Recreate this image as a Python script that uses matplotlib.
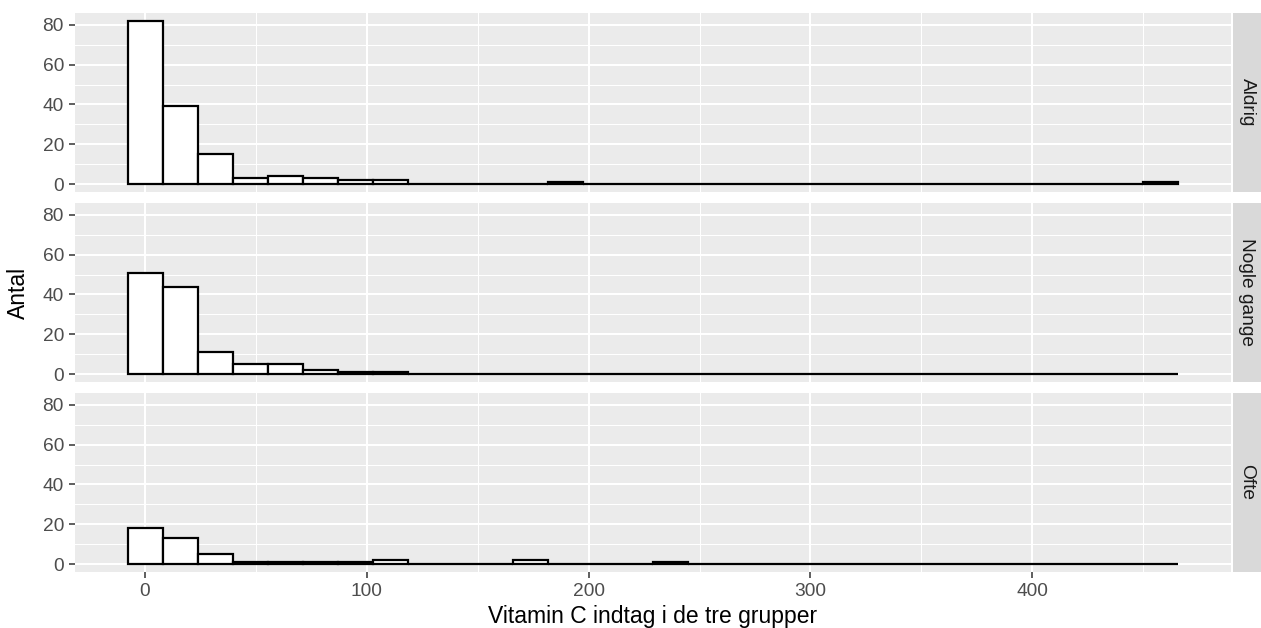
import numpy as np
import matplotlib
matplotlib.use("Agg")
import matplotlib.pyplot as plt

plt.rcParams['font.family'] = ['Liberation Sans', 'DejaVu Sans']

# Data
groups = ["Aldrig", "Nogle gange", "Ofte"]
bin_min, bin_max, n_bins = 0.0, 458.0, 30
counts_aldrig = [82, 39, 15, 3, 4, 3, 2, 2, 0, 0, 0, 0, 1, 0, 0,
                 0, 0, 0, 0, 0, 0, 0, 0, 0, 0, 0, 0, 0, 0, 1]
counts_nogle = [51, 44, 11, 5, 5, 2, 1, 1, 0, 0, 0, 0, 0, 0, 0,
                0, 0, 0, 0, 0, 0, 0, 0, 0, 0, 0, 0, 0, 0, 0]
counts_ofte = [18, 13, 5, 1, 1, 1, 1, 2, 0, 0, 0, 2, 0, 0, 0,
               1, 0, 0, 0, 0, 0, 0, 0, 0, 0, 0, 0, 0, 0, 0]
all_counts = [counts_aldrig, counts_nogle, counts_ofte]
x_ticks = [0, 100, 200, 300, 400]
y_ticks = [0, 20, 40, 60, 80]
x_label = "Vitamin C indtag i de tre grupper"
y_label = "Antal"

width = (bin_max - bin_min) / (n_bins - 1)
centers = bin_min + width * np.arange(n_bins)
lo_edge = centers[0] - width / 2
hi_edge = centers[-1] + width / 2
xpad = 0.05 * (hi_edge - lo_edge)
ymax = max(max(c) for c in all_counts)

W, H = 1261, 628
fig = plt.figure(figsize=(W / 100, H / 100), dpi=100)

panel_left, panel_right = 75, 1231
strip_left, strip_right = 1233, 1261
tops = [12.7, 202.7, 392.7]
ph = 179.6

for i, (g, cnts) in enumerate(zip(groups, all_counts)):
    top = tops[i]
    ax = fig.add_axes([panel_left / W, 1 - (top + ph) / H,
                       (panel_right - panel_left) / W, ph / H])
    ax.set_facecolor("#EBEBEB")
    for s in ax.spines.values():
        s.set_visible(False)
    ax.set_xlim(lo_edge - xpad, hi_edge + xpad)
    ax.set_ylim(-0.05 * ymax, ymax * 1.05)
    ax.set_xticks(x_ticks)
    ax.set_xticks([50, 150, 250, 350, 450], minor=True)
    ax.set_yticks(y_ticks)
    ax.set_yticks([10, 30, 50, 70], minor=True)
    ax.grid(which="major", color="white", linewidth=1.5)
    ax.grid(which="minor", color="white", linewidth=0.75)
    ax.set_axisbelow(True)
    ax.bar(centers, cnts, width=width, color="white", edgecolor="black",
           linewidth=1.6, zorder=3)
    ax.tick_params(which="minor", length=0)
    ax.tick_params(which="major", color="#333333", length=4, width=1.1,
                   labelsize=13.8, labelcolor="#4D4D4D", pad=4)
    if i < 2:
        ax.tick_params(axis="x", length=0, labelbottom=False)

    sax = fig.add_axes([strip_left / W, 1 - (top + ph) / H,
                        (strip_right - strip_left) / W, ph / H])
    sax.set_facecolor("#D9D9D9")
    for s in sax.spines.values():
        s.set_visible(False)
    sax.set_xticks([])
    sax.set_yticks([])
    sax.text(0.5, 0.5, g, rotation=-90, ha="center", va="center",
             fontsize=13.8, color="#1A1A1A", transform=sax.transAxes)

fig.text((panel_left + panel_right) / 2 / W, 1 - 623.5 / H, x_label,
         ha="center", va="baseline", fontsize=16.5, color="black")
fig.text(18.5 / W, 1 - (tops[0] + tops[2] + ph) / 2 / H, y_label,
         ha="center", va="center", rotation=90, fontsize=16.5, color="black")

fig.savefig("out.png", dpi=100)
